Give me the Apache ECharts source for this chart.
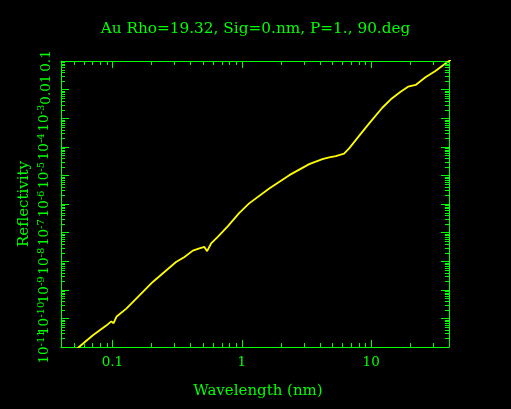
<!DOCTYPE html>
<html>
<head>
<meta charset="utf-8">
<script src="https://cdn.jsdelivr.net/npm/echarts@6/dist/echarts.min.js"></script>
<style>
html,body{margin:0;padding:0;background:#000;}
#chart{width:511px;height:409px;}
</style>
</head>
<body>
<div id="chart"></div>
<script>
const titleText = 'Au Rho=19.32, Sig=0.nm, P=1., 90.deg';
const xName = 'Wavelength (nm)';
const yName = 'Reflectivity';

const wavelength = [0.0413, 0.0551, 0.0706, 0.0895, 0.098, 0.102, 0.1077, 0.128, 0.205, 0.31,
  0.3605, 0.418, 0.47, 0.514, 0.539, 0.552, 0.579, 0.652, 0.778, 0.957,
  1.14, 1.63, 2.33, 3.32, 4.2, 4.74, 5.33, 6.18, 6.76, 8.07,
  9.66, 12.2, 14.2, 16.9, 19.3, 22.1, 26.3, 31.4, 38.7, 41.3];
const reflectivity = [3.3e-12, 1.0e-11, 2.57e-11, 5.6e-11, 7.9e-11, 6.8e-11, 1.17e-10, 2.2e-10, 1.88e-9, 9.4e-9,
  1.41e-8, 2.34e-8, 2.8e-8, 3.16e-8, 2.24e-8, 2.19e-8, 4.17e-8, 7.1e-8, 1.66e-7, 4.9e-7,
  1.05e-6, 3.5e-6, 1.02e-5, 2.48e-5, 3.7e-5, 4.27e-5, 4.73e-5, 5.75e-5, 8.8e-5, 2.4e-4,
  6.6e-4, 2.32e-3, 4.57e-3, 8.4e-3, 1.26e-2, 1.45e-2, 2.7e-2, 4.47e-2, 9.0e-2, 0.11];

const xMin = 0.04, xMax = 40;
const yMin = 1e-11, yMax = 0.1;
const xTickValues = [0.1, 1, 10];
const xTickLabels = ['0.1', '1', '10'];
const yTickExponents = [-11, -10, -9, -8, -7, -6, -5, -4, -3, -2, -1];
const yTickLabels = ['10^-11', '10^-10', '10^-9', '10^-8', '10^-7', '10^-6', '10^-5', '10^-4', '10^-3', '0.01', '0.1'];
const xMinorTicks = [0.05, 0.06, 0.07, 0.08, 0.09, 0.2, 0.3, 0.4, 0.5, 0.6, 0.7, 0.8, 0.9,
  2, 3, 4, 5, 6, 7, 8, 9, 20, 30];
const yMinorMantissas = [2, 3, 4, 5, 6, 7, 8, 9];

const GREEN = '#00ff00';
const YELLOW = '#ffff00';
const FONT = 'DejaVu Serif';

const yMinorTicks = [];
for (let e = -11; e <= -2; e++) {
  yMinorMantissas.forEach(m => yMinorTicks.push(m * Math.pow(10, e)));
}

function isPow(v, e) { return Math.abs(Math.log10(v) - e) < 1e-4; }

function xLabel(v) {
  for (let i = 0; i < xTickValues.length; i++) {
    if (Math.abs(v - xTickValues[i]) / xTickValues[i] < 1e-4) return xTickLabels[i];
  }
  return '';
}
function yLabelText(i) {
  const t = yTickLabels[i];
  if (t.indexOf('^') >= 0) {
    const p = t.split('^');
    return '{b|' + p[0] + '}{s|' + p[1] + '}';
  }
  return '{b|' + t + '}';
}
// main left axis: all decade labels except the bottom one
function yLabel(v) {
  for (let i = 1; i < yTickExponents.length; i++) {
    if (isPow(v, yTickExponents[i])) return yLabelText(i);
  }
  return '';
}
// helper left axis: only the bottom decade label (so overlap pruning can't drop it)
function yLabelMin(v) {
  return isPow(v, yTickExponents[0]) ? yLabelText(0) : '';
}

const chart = echarts.init(document.getElementById('chart'), null, {renderer: 'canvas'});

function tickLine(x1, y1, x2, y2) {
  return {type: 'line', shape: {x1: x1, y1: y1, x2: x2, y2: y2},
    style: {stroke: GREEN, lineWidth: 1}};
}

const yRich = {
  b: {color: GREEN, fontFamily: FONT, fontSize: 13.5},
  s: {color: GREEN, fontFamily: FONT, fontSize: 10, verticalAlign: 'bottom', padding: [0, 0, 7, 0]}
};

const yAxisBase = {
  type: 'log', logBase: 10, min: yMin, max: yMax, interval: 1, splitNumber: 10,
  axisLine: {show: true, lineStyle: {color: GREEN, width: 1}},
  axisTick: {show: true, inside: true, length: 8, interval: 0, lineStyle: {color: GREEN}},
  splitLine: {show: false}
};

const option = {
  backgroundColor: '#000',
  animation: false,
  title: {
    text: titleText, left: 'center', top: 17,
    textStyle: {color: GREEN, fontFamily: FONT, fontSize: 15.3, fontWeight: 'normal'}
  },
  grid: {left: 61, top: 61, width: 388, height: 286, containLabel: false},
  xAxis: [{
    type: 'log', logBase: 10, min: xMin, max: xMax, position: 'bottom',
    axisLine: {show: true, lineStyle: {color: GREEN, width: 1}},
    axisTick: {show: true, inside: true, length: 7, interval: 0, lineStyle: {color: GREEN}},
    axisLabel: {color: GREEN, fontFamily: FONT, fontSize: 13.5, margin: 8, interval: 0,
      hideOverlap: false, formatter: xLabel},
    splitLine: {show: false},
    name: xName, nameLocation: 'middle', nameGap: 37, nameMoveOverlap: false,
    nameTextStyle: {color: GREEN, fontFamily: FONT, fontSize: 15, padding: [0, 0, 0, 6]}
  }, {
    type: 'log', logBase: 10, min: xMin, max: xMax, position: 'top',
    axisLine: {show: true, lineStyle: {color: GREEN, width: 1}},
    axisTick: {show: true, inside: true, length: 7, interval: 0, lineStyle: {color: GREEN}},
    axisLabel: {show: false},
    splitLine: {show: false}
  }],
  yAxis: [Object.assign({}, yAxisBase, {
    position: 'left',
    axisLabel: {
      color: GREEN, fontFamily: FONT, rotate: 90, margin: 8, interval: 0, hideOverlap: false,
      showMinLabel: false, showMaxLabel: true,
      formatter: yLabel, rich: yRich
    },
    name: yName, nameLocation: 'middle', nameGap: 29, nameRotate: 90, nameMoveOverlap: false,
    nameTextStyle: {color: GREEN, fontFamily: FONT, fontSize: 15}
  }), Object.assign({}, yAxisBase, {
    position: 'right',
    axisLabel: {show: false}
  }), Object.assign({}, yAxisBase, {
    position: 'left', offset: 0,
    axisLine: {show: false},
    axisTick: {show: false},
    axisLabel: {
      color: GREEN, fontFamily: FONT, rotate: 90, margin: 8, interval: 0, hideOverlap: false,
      showMinLabel: true, showMaxLabel: false,
      formatter: yLabelMin, rich: yRich
    }
  })],
  series: [{
    type: 'line', xAxisIndex: 0, yAxisIndex: 0,
    data: wavelength.map((w, i) => [w, reflectivity[i]]),
    showSymbol: false, symbol: 'none', clip: true,
    lineStyle: {color: YELLOW, width: 1.8},
    z: 3
  }, {
    type: 'custom', xAxisIndex: 0, yAxisIndex: 0,
    data: xMinorTicks.map(v => [v, yMin]),
    encode: {x: 0, y: 1},
    renderItem: function (params, api) {
      const v = api.value(0);
      const b = api.coord([v, yMin]);
      const t = api.coord([v, yMax]);
      const x = Math.round(b[0]) + 0.5;
      return {type: 'group', children: [
        tickLine(x, b[1], x, b[1] - 4),
        tickLine(x, t[1], x, t[1] + 4)
      ]};
    },
    z: 4, silent: true
  }, {
    type: 'custom', xAxisIndex: 0, yAxisIndex: 0,
    data: yMinorTicks.map(v => [xMin, v]),
    encode: {x: 0, y: 1},
    renderItem: function (params, api) {
      const v = api.value(1);
      const l = api.coord([xMin, v]);
      const r = api.coord([xMax, v]);
      const y = Math.round(l[1]) + 0.5;
      return {type: 'group', children: [
        tickLine(l[0], y, l[0] + 4, y),
        tickLine(r[0], y, r[0] - 4, y)
      ]};
    },
    z: 4, silent: true
  }]
};
chart.setOption(option);
</script>
</body>
</html>
